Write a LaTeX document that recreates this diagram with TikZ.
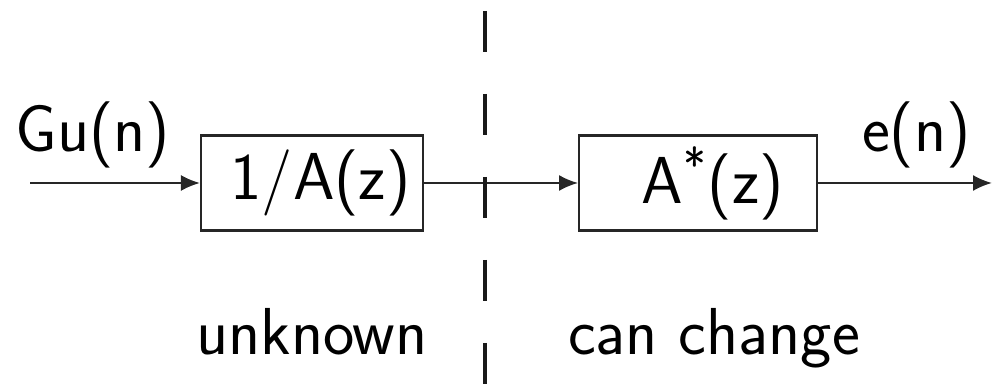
\documentclass[tikz,border=0pt]{standalone}
\usepackage{tikz}
\usetikzlibrary{arrows.meta,positioning}

\begin{document}
\begin{tikzpicture}[
    box/.style={rectangle, draw=black!85, line width=0.6pt, minimum height=0.95cm, inner sep=0pt, font=\fontsize{18.9}{22}\sffamily},
    arrow/.style={-{Latex[length=1.9mm,width=1.6mm]}, line width=0.6pt, draw=black!85},
    lbl/.style={font=\fontsize{18.9}{22}\sffamily, anchor=base, inner sep=0pt},
    split/.style={line width=1pt, draw=black!90, dash pattern=on 0.41cm off 0.42cm}
]
\useasboundingbox (0,0) rectangle (9.92,3.84);
\node[box, minimum width=2.22cm] (inv) at (3.12,2.01) {\hspace*{0.17cm}1/A(z)};
\node[box, minimum width=2.38cm, right=1.54cm of inv] (opt) {\hspace*{0.29cm}A\textsuperscript{*}(z)};

\coordinate (in) at (0.30,2.01);
\coordinate (out) at (9.92,2.01);
\coordinate (top) at (4.85,3.73);
\coordinate (bot) at (4.85,0);

\node[lbl] (gu) at (0.93,2.32) {Gu(n)};
\node[lbl] (en) at (9.165,2.32) {e(n)};
\node[lbl] (unk) at (3.12,0.29) {unknown};
\node[lbl] (chg) at (7.14,0.29) {can change};

\draw[arrow] (in) -- (inv);
\draw[arrow] (inv) -- (opt);
\draw[arrow] (opt) -- (out);
\draw[split] (top) -- (bot);
\end{tikzpicture}
\end{document}
